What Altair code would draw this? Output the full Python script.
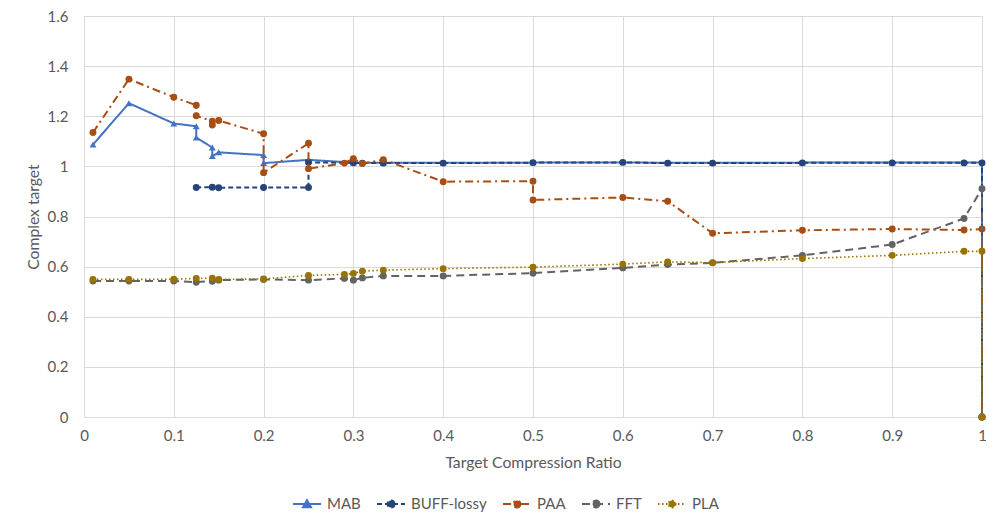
import altair as alt
import pandas as pd

# ---------------- data ----------------
names = ["MAB", "BUFF-lossy", "PAA", "FFT", "PLA"]
colors = ["#4472C4", "#264478", "#A94E13", "#636363", "#997300"]

mab_x = [0.01, 0.05, 0.1, 0.125, 0.125, 0.1429, 0.1429, 0.15, 0.2, 0.2, 0.25,
         0.3, 0.3333, 0.4, 0.5, 0.6, 0.65, 0.7, 0.8, 0.9, 0.98, 1.0, 1.0]
mab_y = [1.087, 1.252, 1.171, 1.160, 1.115, 1.075, 1.041, 1.056, 1.045, 1.013, 1.026,
         1.015, 1.014, 1.014, 1.015, 1.016, 1.014, 1.014, 1.015, 1.015, 1.015, 1.015, 0.0]

buff_x = [0.125, 0.1429, 0.15, 0.2, 0.25, 0.25, 0.3, 0.31, 0.3333, 0.4, 0.5,
          0.6, 0.65, 0.7, 0.8, 0.9, 0.98, 1.0, 1.0]
buff_y = [0.916, 0.917, 0.915, 0.916, 0.916, 1.016, 1.014, 1.013, 1.013, 1.013, 1.015,
          1.016, 1.013, 1.013, 1.014, 1.014, 1.014, 1.014, 0.0]

paa_x = [0.01, 0.05, 0.1, 0.125, 0.125, 0.1429, 0.1429, 0.15, 0.2, 0.2, 0.25, 0.25,
         0.29, 0.3, 0.31, 0.3333, 0.4, 0.5, 0.5, 0.6, 0.65, 0.7, 0.8, 0.9, 0.98, 1.0, 1.0]
paa_y = [1.135, 1.348, 1.276, 1.244, 1.202, 1.180, 1.165, 1.183, 1.130, 0.975, 1.092, 0.991,
         1.013, 1.031, 1.011, 1.027, 0.939, 0.941, 0.866, 0.876, 0.861, 0.733, 0.745, 0.750,
         0.746, 0.750, 0.0]

fft_x = [0.01, 0.05, 0.1, 0.125, 0.1429, 0.15, 0.2, 0.25, 0.29, 0.3, 0.31, 0.3333,
         0.4, 0.5, 0.6, 0.65, 0.7, 0.8, 0.9, 0.98, 1.0, 1.0]
fft_y = [0.543, 0.543, 0.543, 0.538, 0.542, 0.546, 0.549, 0.546, 0.553, 0.546, 0.555, 0.563,
         0.563, 0.574, 0.595, 0.608, 0.615, 0.645, 0.688, 0.792, 0.911, 0.0]

pla_x = [0.01, 0.05, 0.1, 0.125, 0.1429, 0.15, 0.2, 0.25, 0.29, 0.3, 0.31, 0.3333,
         0.4, 0.5, 0.6, 0.65, 0.7, 0.8, 0.9, 0.98, 1.0, 1.0]
pla_y = [0.549, 0.549, 0.550, 0.553, 0.554, 0.549, 0.551, 0.565, 0.569, 0.573, 0.582, 0.586,
         0.592, 0.598, 0.610, 0.619, 0.616, 0.632, 0.645, 0.661, 0.661, 0.0]

x_ticks = [0, 0.1, 0.2, 0.3, 0.4, 0.5, 0.6, 0.7, 0.8, 0.9, 1]
y_ticks = [0, 0.2, 0.4, 0.6, 0.8, 1.0, 1.2, 1.4, 1.6]

series_x = [mab_x, buff_x, paa_x, fft_x, pla_x]
series_y = [mab_y, buff_y, paa_y, fft_y, pla_y]

# ---------------- styles ----------------
dashes = [[1, 0], [5, 3], [8, 4, 2, 4], [8, 5], [1.5, 2.5]]
widths = [2, 2, 2, 2, 1.6]
shapes = ["triangle-up", "circle", "circle", "circle", "circle"]
circ = "M0.25,0A0.25,0.25,0,1,1,-0.25,0A0.25,0.25,0,1,1,0.25,0Z"
legend_paths = ["M-1,0L1,0M-0.29,0.24L0,-0.28L0.29,0.24Z"] + ["M-1,0L1,0" + circ] * 4

FONT = "Lato"
TXT = "#595959"

X = alt.X("x:Q", scale=alt.Scale(domain=[0, 1], nice=False, zero=False),
          axis=alt.Axis(values=x_ticks, format="~g", title="Target Compression Ratio",
                        ticks=False, labelFlush=False, domainColor="#D9D9D9",
                        labelPadding=11, titlePadding=12))
Y = alt.Y("y:Q", scale=alt.Scale(domain=[0, 1.6], nice=False),
          axis=alt.Axis(values=y_ticks, format="~g", title="Complex target",
                        ticks=False, domain=False, labelPadding=16, titlePadding=6))

layers = []
for k, name in enumerate(names):
    df = pd.DataFrame({"x": series_x[k], "y": series_y[k],
                       "i": list(range(len(series_x[k])))})
    base = alt.Chart(df).encode(x=X, y=Y)
    line = base.mark_line(color=colors[k], strokeDash=dashes[k],
                          strokeWidth=widths[k]).encode(order="i:Q")
    pts = base.mark_point(filled=True, color=colors[k], shape=shapes[k],
                          size=48, opacity=1)
    layers += [line, pts]

leg = alt.Legend(orient="none", legendX=208, legendY=473, direction="horizontal",
                 columns=5, title=None, labelFont=FONT, labelFontSize=15,
                 labelColor=TXT, columnPadding=12, labelOffset=5, symbolSize=784,
                 symbolStrokeWidth=2, symbolOpacity=1, padding=0)

legend_df = pd.DataFrame({"series": names})
legend_layer = alt.Chart(legend_df).transform_filter("false").mark_point(
    opacity=1, size=784, strokeWidth=2).encode(
    fill=alt.Fill("series:N", scale=alt.Scale(domain=names, range=colors), legend=leg),
    stroke=alt.Stroke("series:N", scale=alt.Scale(domain=names, range=colors), legend=leg),
    shape=alt.Shape("series:N", scale=alt.Scale(domain=names, range=legend_paths), legend=leg),
    strokeDash=alt.StrokeDash("series:N", scale=alt.Scale(domain=names, range=dashes), legend=leg),
)

chart = alt.layer(*layers, legend_layer).properties(
    width=898, height=401,
    autosize=alt.AutoSizeParams(type="none"),
    padding={"left": 76, "top": 8, "right": 4, "bottom": 95},
).configure_view(strokeWidth=0).configure_axis(
    labelFont=FONT, titleFont=FONT, labelFontSize=15, titleFontSize=15.7,
    labelColor=TXT, titleColor=TXT, titleFontWeight="normal",
    gridColor="#D9D9D9", gridWidth=1,
)

chart.save("out.html", embed_options={"renderer": "svg", "actions": False})
